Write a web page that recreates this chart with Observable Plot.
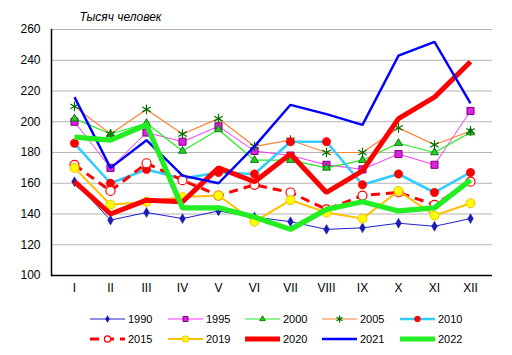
<!DOCTYPE html>
<html><head><meta charset="utf-8">
<script src="https://cdn.jsdelivr.net/npm/d3@7"></script>
<script src="https://cdn.jsdelivr.net/npm/@observablehq/plot@0.6"></script>
<style>
body{margin:0;background:#fff;font-family:Arial,"Liberation Sans",sans-serif;}
#wrap{position:relative;width:512px;height:355px;overflow:hidden;}
.lg{position:absolute;display:flex;align-items:center;font-size:11px;color:#000;height:14px;}
.lg svg{margin-right:3px;overflow:visible;}
</style></head><body><div id="wrap"></div>
<script>
const months = ["I","II","III","IV","V","VI","VII","VIII","IX","X","XI","XII"];
const years = ["1990","1995","2000","2005","2010","2015","2019","2020","2021","2022"];
const v1990 = [161,136,141,137,142,138,135,130,131,134,132,137];
const v1995 = [200,170,193,187,197,181,178,172,169,179,172,207];
const v2000 = [202,192,199,181,195,175,175,170,175,186,180,193];
const v2005 = [210,192,208,192,202,184,188,180,180,196,185,194];
const v2010 = [186,160,169,163,167,166,187,187,159,166,154,167];
const v2015 = [172,155,173,162,152,159,154,143,152,154,146,161];
const v2019 = [170,146,148,151,152,135,149,141,137,155,139,147];
const v2020 = [161,140,149,148,170,161,179,154,168,202,216,239];
const v2021 = [216,170,188,165,160,184,211,205,198,243,252,212];
const v2022 = [190,188,198,144,144,138,130,143,148,142,144,162];
const yTicks = [100,120,140,160,180,200,220,240,260];
const unitLabel = "Тысяч человек";

const values = {"1990":v1990,"1995":v1995,"2000":v2000,"2005":v2005,"2010":v2010,"2015":v2015,"2019":v2019,"2020":v2020,"2021":v2021,"2022":v2022};
const rows = years.flatMap(y => months.map((m,i) => ({year:y, month:m, value:values[y][i]})));

const st = {
  "1990":{stroke:"#2020c8",w:1,sym:"diamond",r:3,fill:"#1a1ab8",ms:"#1a1ab8",msw:0.5},
  "1995":{stroke:"#ff33ff",w:1,sym:"square",r:4,fill:"#dd22dd",ms:"#800080",msw:1},
  "2000":{stroke:"#22ee22",w:1.2,sym:"triangle",r:3,fill:"#22cc22",ms:"#006400",msw:0.8},
  "2005":{stroke:"#ff8033",w:1.2,sym:"asterisk",r:4.6,fill:"none",ms:"#007000",msw:1.2},
  "2010":{stroke:"#33ccff",w:2.6,sym:"circle",r:4.2,fill:"#ff0000",ms:"#dd0000",msw:0.5},
  "2015":{stroke:"#ff0000",w:3,dash:"9,6",sym:"circle",r:4.5,fill:"#ffffff",ms:"#ff0000",msw:1.2},
  "2019":{stroke:"#ffc000",w:2,sym:"circle",r:4.5,fill:"#ffff00",ms:"#f0c000",msw:1},
  "2020":{stroke:"#ff0000",w:5},
  "2021":{stroke:"#0000ff",w:2.4},
  "2022":{stroke:"#22ee22",w:5.2}
};

const marks = [
  Plot.gridY(yTicks, {stroke:"#b4b4b4", strokeOpacity:1, strokeWidth:1}),
  Plot.axisY(yTicks, {tickSize:0, tickPadding:11, fontSize:12, tickFormat:d=>String(d)}),
  Plot.axisX({tickSize:0, tickPadding:8, fontSize:12}),
];
for (const y of years) {
  const s = st[y];
  const data = rows.filter(d => d.year === y);
  marks.push(Plot.line(data, {x:"month", y:"value", stroke:s.stroke, strokeWidth:s.w, strokeDasharray:s.dash, strokeLinejoin:"miter", strokeLinecap:"butt"}));
  if (s.sym) marks.push(Plot.dot(data, {x:"month", y:"value", symbol:s.sym, r:s.r, fill:s.fill, stroke:s.ms, strokeWidth:s.msw}));
}
marks.push(Plot.ruleY([100], {stroke:"#000", strokeWidth:1.5}));
marks.push(Plot.frame({anchor:"left", stroke:"#000", strokeWidth:1.5}));
marks.push(Plot.text([unitLabel], {frameAnchor:"top-left", dx:28, dy:-12.5, lineAnchor:"middle", textAnchor:"start", fontStyle:"italic", fontSize:12}));

const chart = Plot.plot({
  width:512, height:300,
  marginLeft:51, marginRight:20, marginTop:29, marginBottom:25,
  style:{fontFamily:'Arial,"Liberation Sans",sans-serif', color:"#000", background:"#fff"},
  x:{type:"point", domain:months, padding:0.5, label:null},
  y:{domain:[100,260], label:null},
  marks
});
const wrap = document.getElementById("wrap");
wrap.appendChild(chart);

// legend
const pos = [[90,319],[168,319],[245,319],[322,319],[400,319],[90,339],[168,339],[245,339],[322,339],[400,339]];
years.forEach((y,i) => {
  const s = st[y];
  const div = document.createElement("div");
  div.className = "lg";
  div.style.left = pos[i][0] + "px";
  div.style.top = (pos[i][1]-7) + "px";
  const W = 35;
  const svg = d3.create("svg").attr("width", W).attr("height", 14);
  svg.append("line").attr("x1",0).attr("x2",W).attr("y1",7).attr("y2",7)
    .attr("stroke",s.stroke).attr("stroke-width",s.w).attr("stroke-dasharray",s.dash || null);
  if (s.sym) {
    const symMap = {diamond:d3.symbolDiamond, square:d3.symbolSquare, triangle:d3.symbolTriangle, asterisk:d3.symbolAsterisk, circle:d3.symbolCircle};
    const rr = s.r*0.7;
    svg.append("path").attr("transform",`translate(${W/2},7)`)
      .attr("d", d3.symbol(symMap[s.sym], Math.PI*rr*rr)())
      .attr("fill", s.fill).attr("stroke", s.ms).attr("stroke-width", s.msw);
  }
  div.appendChild(svg.node());
  const t = document.createElement("span");
  t.textContent = y;
  div.appendChild(t);
  wrap.appendChild(div);
});
</script></body></html>
